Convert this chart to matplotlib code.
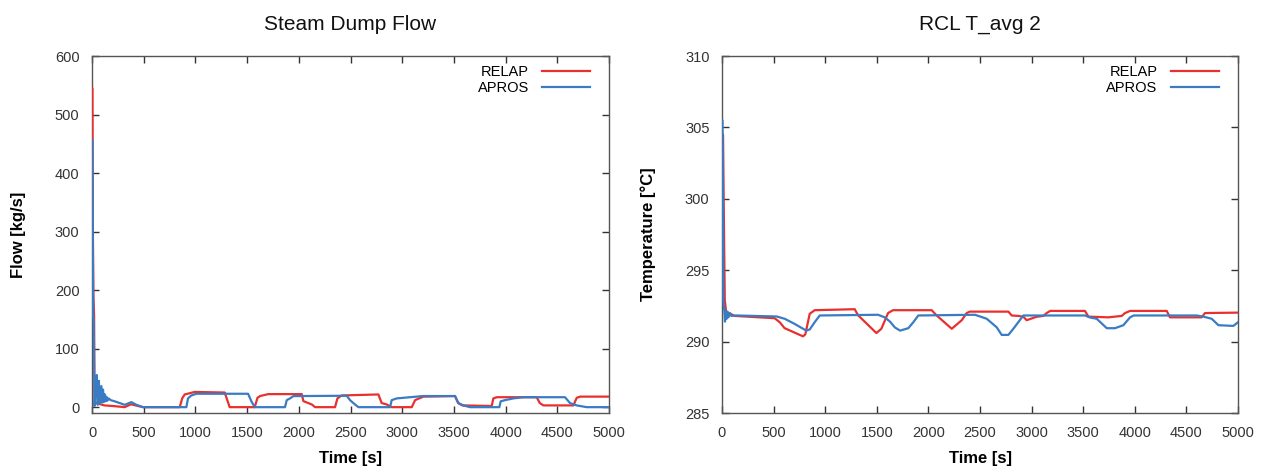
import numpy as np
import matplotlib
matplotlib.use("Agg")
import matplotlib.pyplot as plt

# Data.
# Steam dump flow [kg/s]
relapFlowT = [0, 4, 8, 14, 20, 24, 30, 60, 120, 200, 316, 377, 420, 493, 848, 872, 896, 993,
              1283, 1331, 1573, 1600, 1625, 1705, 2028, 2044, 2125, 2157, 2350, 2373, 2415,
              2769, 2801, 2850, 2898, 3092, 3124, 3204, 3510, 3541, 3580, 3865, 3881, 3914,
              4300, 4330, 4365, 4655, 4687, 4720, 5000]
relapFlowV = [545, 545, 300, 189, 155, 10, 9, 6, 3, 2, 0, 5, 3, 0, 0, 15, 21.7, 26,
              25, 0, 0, 16, 19, 22.3, 22.3, 10.3, 4.6, 0, 0, 15, 20,
              21.7, 7, 4.6, 0, 0, 12, 18, 19, 7, 3, 2, 15,
              17, 17, 7, 3, 3, 16, 18, 18]
aprosFlowT = [0, 4, 10, 16, 24, 32, 45, 55, 66, 76, 90, 100, 106, 115, 122, 131, 139, 148,
              161, 180, 219, 316, 380, 430, 493, 912, 928, 960, 1009, 1509, 1541, 1573,
              1866, 1883, 1915, 1947, 2463, 2495, 2543, 2576, 2882, 2898, 2947, 3076, 3200,
              3510, 3542, 3591, 3655, 3939, 3952, 3994, 4075, 4172, 4574, 4622, 4687, 4784,
              5000]
aprosFlowV = [457, 457, 155, 150, 2, 20, 55, 4, 45, 6, 36, 8, 30, 9, 22, 10, 18, 11,
              15, 12, 10, 4, 8.6, 4, 0, 0, 15, 20, 22.9, 22.9, 10, 0,
              0, 12, 15, 18.9, 19.5, 12, 4.6, 0, 0, 12, 15, 17, 19,
              19, 7, 3, 0, 0, 10, 12, 15, 17, 17, 7, 3, 0,
              0]

# RCL average temperature [C]
relapTempT = [0, 10, 20, 27, 40, 123, 510, 559, 607, 785, 807, 850, 898, 1286, 1318, 1496,
              1544, 1609, 1657, 2032, 2080, 2226, 2323, 2371, 2400, 2775, 2807, 2872, 2920,
              2952, 3049, 3114, 3146, 3180, 3517, 3550, 3743, 3873, 3905, 3954, 4309, 4341,
              4648, 4680, 5000]
relapTempV = [304.5, 304.5, 297.4, 292.9, 292.1, 291.8, 291.64, 291.36, 290.94, 290.37, 290.5,
              291.95, 292.2, 292.27, 291.85, 290.6, 290.9, 292.0, 292.2, 292.2, 291.83, 290.9,
              291.5, 292.0, 292.1, 292.1, 291.83, 291.8, 291.74, 291.5, 291.74, 291.8, 292.0,
              292.15, 292.15, 291.75, 291.7, 291.8, 292.0, 292.15, 292.15, 291.7, 291.7, 292.0,
              292.03]
aprosTempT = [0, 5, 13, 22, 29, 36, 44, 52, 62, 75, 90, 142, 530, 607, 704, 817, 850, 898,
              947, 1512, 1577, 1628, 1674, 1725, 1805, 1854, 1902, 2452, 2565, 2662, 2710,
              2775, 2823, 2920, 3517, 3566, 3631, 3728, 3808, 3889, 3954, 3990, 4600, 4664,
              4745, 4810, 4955, 5000]
aprosTempV = [305.5, 305.5, 292.9, 292.2, 291.4, 292.2, 291.6, 292.1, 291.7, 292.0, 291.8,
              291.83, 291.76, 291.6, 291.24, 290.77, 290.85, 291.36, 291.83, 291.88, 291.7,
              291.4, 291.0, 290.77, 290.94, 291.36, 291.83, 291.88, 291.6, 291.0, 290.47,
              290.47, 290.9, 291.83, 291.83, 291.69, 291.6, 290.94, 290.94, 291.15, 291.7,
              291.83, 291.83, 291.75, 291.6, 291.15, 291.1, 291.36]

xTicks = np.arange(0, 5001, 500)
flowTicks = np.arange(0, 601, 100)
tempTicks = np.arange(285, 311, 5)

relapColor = "#e8302e"
aprosColor = "#3a7cc4"

plt.rcParams["font.family"] = ["Liberation Sans", "DejaVu Sans"]

fig = plt.figure(figsize=(12.66, 4.66), dpi=100)
axFlow = fig.add_axes([0.0727, 0.1137, 0.4084, 0.7661])
axTemp = fig.add_axes([0.5703, 0.1137, 0.4076, 0.7661])


# Apply the gnuplot-like styling to one panel.
def StylePanel(ax, title, ylabel, yticks, ylim):
  ax.set_xlim(0, 5000)
  ax.set_ylim(*ylim)
  ax.set_xticks(xTicks)
  ax.set_yticks(yticks)
  ax.tick_params(direction="in", top=True, right=True, length=5, width=1,
                 labelsize=10.5, labelcolor="#333333", color="#333333", pad=9)
  for s in ax.spines.values():
    s.set_color("#555555")
    s.set_linewidth(1)
  ax.set_title(title, fontsize=15, pad=19, color="#111111")
  ax.set_xlabel("Time [s]", fontsize=12, fontweight="bold", labelpad=8)
  ax.set_ylabel(ylabel, fontsize=12, fontweight="bold", labelpad=21)
  ax.legend(loc="upper right", frameon=False, markerfirst=False, fontsize=10.5,
            handlelength=3.3, handletextpad=0.9, labelspacing=0.18,
            borderaxespad=0.2, bbox_to_anchor=(0.98, 1.0))


axFlow.plot(relapFlowT, relapFlowV, color=relapColor, linewidth=1.6, label="RELAP", zorder=3)
axFlow.plot(aprosFlowT, aprosFlowV, color=aprosColor, linewidth=1.6, label="APROS", zorder=3)
StylePanel(axFlow, "Steam Dump Flow", "Flow [kg/s]", flowTicks, (-10, 600))

axTemp.plot(relapTempT, relapTempV, color=relapColor, linewidth=1.6, label="RELAP", zorder=3)
axTemp.plot(aprosTempT, aprosTempV, color=aprosColor, linewidth=1.6, label="APROS", zorder=3)
StylePanel(axTemp, "RCL T_avg 2", "Temperature [°C]", tempTicks, (285, 310))

fig.savefig("out.png", dpi=100)
